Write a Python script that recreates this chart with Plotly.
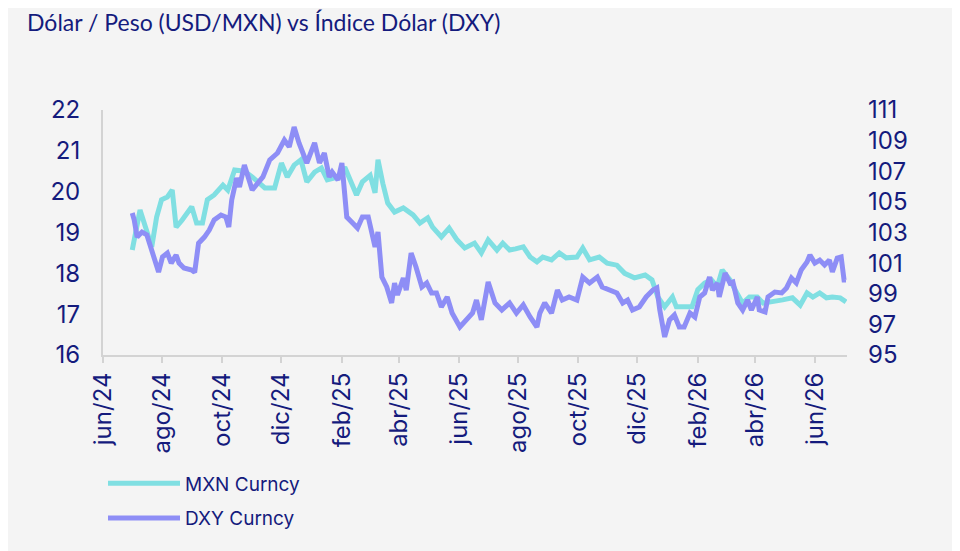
import plotly.graph_objects as go

# USD/MXN (left axis)
mxn_dates = [
    "2024-07-01", "2024-07-09", "2024-07-21", "2024-07-26", "2024-07-31", "2024-08-06",
    "2024-08-11", "2024-08-15", "2024-08-21", "2024-08-31", "2024-09-05", "2024-09-11",
    "2024-09-16", "2024-09-23", "2024-10-02", "2024-10-07", "2024-10-14", "2024-10-24",
    "2024-11-01", "2024-11-14", "2024-11-24", "2024-12-01", "2024-12-07", "2024-12-14",
    "2024-12-21", "2024-12-27", "2025-01-04", "2025-01-11", "2025-01-17", "2025-01-28",
    "2025-02-04", "2025-02-11", "2025-02-16", "2025-02-22", "2025-03-02", "2025-03-07",
    "2025-03-10", "2025-03-15", "2025-03-20", "2025-03-27", "2025-04-05", "2025-04-15",
    "2025-04-22", "2025-04-30", "2025-05-05", "2025-05-14", "2025-05-22", "2025-05-30",
    "2025-06-07", "2025-06-17", "2025-06-24", "2025-07-01", "2025-07-10", "2025-07-16",
    "2025-07-23", "2025-07-29", "2025-08-06", "2025-08-13", "2025-08-20", "2025-08-26",
    "2025-09-04", "2025-09-12", "2025-09-19", "2025-09-30", "2025-10-06", "2025-10-13",
    "2025-10-23", "2025-10-31", "2025-11-10", "2025-11-18", "2025-11-28", "2025-12-09",
    "2025-12-16", "2025-12-22", "2025-12-29", "2026-01-06", "2026-01-10", "2026-01-18",
    "2026-01-26", "2026-02-01", "2026-02-08", "2026-02-15", "2026-02-21", "2026-02-26",
    "2026-03-06", "2026-03-13", "2026-03-19", "2026-03-26", "2026-04-03", "2026-04-09",
    "2026-04-19", "2026-04-29", "2026-05-09", "2026-05-17", "2026-05-24", "2026-05-30",
    "2026-06-06", "2026-06-13", "2026-06-19", "2026-06-27", "2026-07-03",
]
mxn_values = [
    18.57, 19.55, 18.65, 19.38, 19.80, 19.87,
    20.04, 19.13, 19.30, 19.63, 19.23, 19.23,
    19.80, 19.92, 20.16, 20.04, 20.53, 20.50,
    20.36, 20.09, 20.09, 20.70, 20.36, 20.65,
    20.78, 20.24, 20.48, 20.58, 20.29, 20.36,
    20.60, 20.20, 19.92, 20.24, 20.40, 19.97,
    20.78, 20.20, 19.72, 19.50, 19.60, 19.43,
    19.23, 19.36, 19.13, 18.89, 19.11, 18.82,
    18.62, 18.74, 18.50, 18.82, 18.57, 18.74,
    18.57, 18.60, 18.65, 18.40, 18.28, 18.40,
    18.33, 18.50, 18.38, 18.40, 18.62, 18.33,
    18.40, 18.25, 18.20, 18.00, 17.89, 17.96,
    17.84, 17.42, 17.18, 17.42, 17.18, 17.18,
    17.18, 17.60, 17.76, 17.84, 17.67, 18.08,
    17.84, 17.52, 17.27, 17.42, 17.42, 17.27,
    17.30, 17.35, 17.40, 17.22, 17.52, 17.42,
    17.52, 17.40, 17.42, 17.40, 17.30,
]

# DXY (right axis)
dxy_dates = [
    "2024-07-01", "2024-07-03", "2024-07-06", "2024-07-11", "2024-07-16", "2024-07-21",
    "2024-07-26", "2024-07-28", "2024-08-01", "2024-08-06", "2024-08-10", "2024-08-15",
    "2024-08-18", "2024-08-23", "2024-08-31", "2024-09-03", "2024-09-07", "2024-09-13",
    "2024-09-18", "2024-09-23", "2024-09-30", "2024-10-05", "2024-10-08", "2024-10-11",
    "2024-10-16", "2024-10-19", "2024-10-24", "2024-11-01", "2024-11-12", "2024-11-19",
    "2024-11-27", "2024-12-04", "2024-12-09", "2024-12-14", "2024-12-19", "2024-12-27",
    "2025-01-04", "2025-01-09", "2025-01-14", "2025-01-19", "2025-01-22", "2025-01-28",
    "2025-02-01", "2025-02-06", "2025-02-12", "2025-02-17", "2025-02-22", "2025-02-28",
    "2025-03-07", "2025-03-10", "2025-03-14", "2025-03-19", "2025-03-24", "2025-03-27",
    "2025-03-30", "2025-04-05", "2025-04-08", "2025-04-13", "2025-04-18", "2025-04-24",
    "2025-04-29", "2025-05-04", "2025-05-09", "2025-05-14", "2025-05-20", "2025-05-25",
    "2025-06-02", "2025-06-09", "2025-06-15", "2025-06-19", "2025-06-24", "2025-07-01",
    "2025-07-08", "2025-07-15", "2025-07-23", "2025-07-30", "2025-08-06", "2025-08-13",
    "2025-08-20", "2025-08-23", "2025-08-28", "2025-09-04", "2025-09-10", "2025-09-15",
    "2025-09-22", "2025-09-30", "2025-10-06", "2025-10-13", "2025-10-21", "2025-10-26",
    "2025-11-03", "2025-11-10", "2025-11-16", "2025-11-21", "2025-11-26", "2025-12-03",
    "2025-12-10", "2025-12-17", "2025-12-21", "2025-12-24", "2025-12-29", "2026-01-03",
    "2026-01-08", "2026-01-13", "2026-01-18", "2026-01-24", "2026-01-29", "2026-02-03",
    "2026-02-08", "2026-02-13", "2026-02-16", "2026-02-21", "2026-02-23", "2026-03-01",
    "2026-03-06", "2026-03-09", "2026-03-14", "2026-03-19", "2026-03-24", "2026-03-28",
    "2026-04-03", "2026-04-05", "2026-04-11", "2026-04-14", "2026-04-21", "2026-04-28",
    "2026-05-03", "2026-05-08", "2026-05-13", "2026-05-18", "2026-05-24", "2026-05-27",
    "2026-06-01", "2026-06-06", "2026-06-11", "2026-06-16", "2026-06-19", "2026-06-24",
    "2026-06-28", "2026-07-01", "2026-07-03",
]
dxy_values = [
    104.27, 103.82, 102.70, 103.03, 102.84, 101.86,
    100.75, 100.42, 101.40, 101.66, 101.00, 101.53,
    101.00, 100.68, 100.55, 100.40, 102.30, 102.70,
    103.16, 103.82, 104.14, 104.01, 103.36, 105.12,
    106.56, 105.97, 107.41, 105.78, 106.63, 107.74,
    108.19, 109.04, 108.59, 109.89, 108.85, 107.54,
    108.85, 107.54, 108.19, 106.63, 106.95, 106.43,
    107.54, 104.01, 103.62, 103.29, 104.01, 104.01,
    102.05, 103.03, 100.09, 99.44, 98.40, 99.70,
    98.92, 100.03, 99.24, 101.66, 100.75, 99.44,
    99.70, 99.05, 99.05, 98.14, 98.79, 97.74,
    96.83, 97.29, 97.74, 98.59, 97.29, 99.77,
    98.40, 97.94, 98.40, 97.74, 98.27, 97.48,
    96.83, 97.74, 98.40, 97.74, 99.24, 98.59,
    98.79, 98.59, 100.09, 99.70, 100.09, 99.44,
    99.24, 99.05, 98.40, 98.59, 97.94, 98.14,
    98.79, 99.24, 99.38, 97.94, 96.18, 97.29,
    97.61, 96.83, 96.83, 97.74, 97.48, 98.79,
    99.05, 100.09, 99.24, 99.70, 98.79, 100.35,
    99.70, 99.77, 98.40, 97.94, 98.59, 97.94,
    98.79, 97.94, 97.81, 98.79, 99.11, 99.05,
    99.38, 100.03, 99.70, 100.55, 101.07, 101.53,
    101.00, 101.20, 100.88, 101.20, 100.42, 101.33,
    101.40, 99.90, 99.90,
]

tick_dates = [
    "2024-06-01", "2024-08-01", "2024-10-01", "2024-12-01", "2025-02-01", "2025-04-01",
    "2025-06-01", "2025-08-01", "2025-10-01", "2025-12-01", "2026-02-01", "2026-04-01",
    "2026-06-01",
]
tick_labels = [
    "jun/24", "ago/24", "oct/24", "dic/24", "feb/25", "abr/25", "jun/25",
    "ago/25", "oct/25", "dic/25", "feb/26", "abr/26", "jun/26",
]

navy = "#141b7d"
bg = "#f4f4f4"
tick_font = dict(family="Inter", size=24, color=navy)

fig = go.Figure()
fig.add_trace(go.Scatter(x=mxn_dates, y=mxn_values, mode="lines", name="MXN Curncy",
                         legendgroup="a", line=dict(color="#80dfe2", width=5)))
fig.add_trace(go.Scatter(x=dxy_dates, y=dxy_values, mode="lines", name="DXY Curncy",
                         legendgroup="b", yaxis="y2", line=dict(color="#8e8ef6", width=5)))

# page body has an 8px margin, so the figure is laid out 8px smaller
fig.update_layout(
    width=952, height=543,
    paper_bgcolor=bg, plot_bgcolor=bg,
    margin=dict(l=95, r=113, t=102, b=196, autoexpand=False),
    title=dict(text="Dólar / Peso (USD/MXN) vs Índice Dólar (DXY)",
               font=dict(family="Lato", size=23, color=navy),
               x=0.02, xanchor="left", y=0.972, yanchor="middle"),
    xaxis=dict(type="date", range=["2024-06-01", "2026-07-04"],
               tickvals=tick_dates, ticktext=tick_labels, tickangle=-90,
               tickfont=tick_font, showgrid=False, zeroline=False, automargin=False,
               showline=True, linecolor="#d3d3d3", linewidth=2,
               ticks="outside", ticklen=6, tickcolor="#d3d3d3", tickwidth=2),
    yaxis=dict(range=[16, 22], dtick=1, tickfont=tick_font, showgrid=False,
               zeroline=False, showline=True, linecolor="#d3d3d3", linewidth=2,
               ticklabelstandoff=16, automargin=False),
    yaxis2=dict(range=[95, 111], tickvals=list(range(95, 112, 2)), tickfont=tick_font,
                overlaying="y", side="right", showgrid=False, zeroline=False,
                showline=False, ticklabelstandoff=20, automargin=False),
    legend=dict(orientation="v", x=0.0, xanchor="left",
                yref="container", y=0.025, yanchor="bottom",
                font=dict(family="Inter", size=19, color=navy), itemwidth=72,
                bgcolor="rgba(0,0,0,0)", tracegroupgap=7),
    showlegend=True,
)

fig.write_html("out.html")
